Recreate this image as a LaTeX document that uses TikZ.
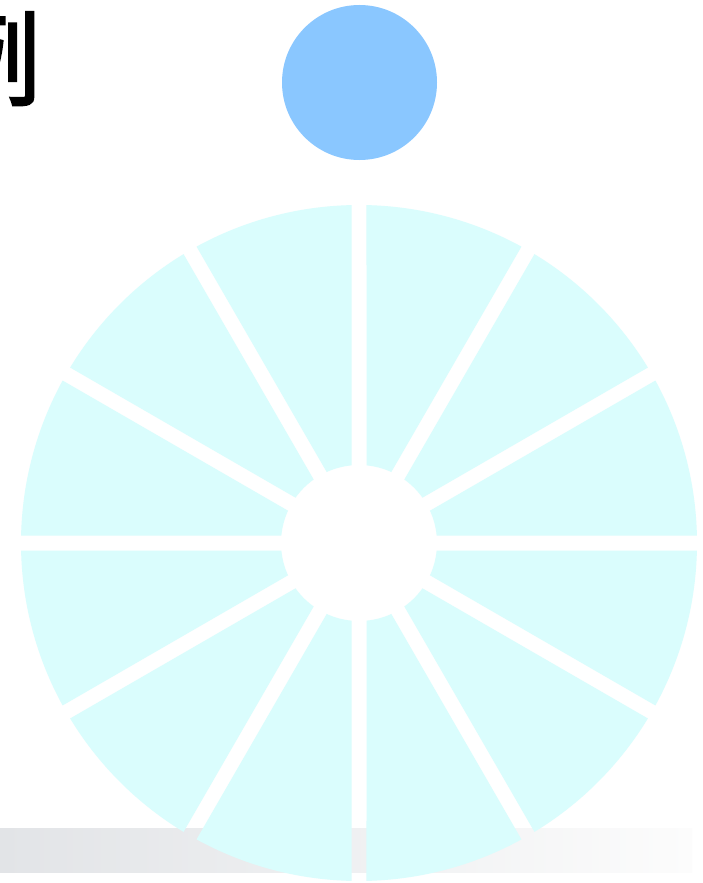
\documentclass[tikz,border=0pt]{standalone}
\usepackage{fontspec}
\newfontfamily\cjk[FakeBold=2]{Noto Sans CJK SC}
\definecolor{wheelcyan}{HTML}{DAFDFD}
\definecolor{dotblue}{HTML}{8AC7FF}
\definecolor{barleft}{HTML}{E2E4E7}
\definecolor{barright}{HTML}{FCFCFC}
\tikzset{
  sector/.style={fill=wheelcyan, draw=none},
}
\begin{document}
\begin{tikzpicture}[x=1pt,y=1pt]
\useasboundingbox (0,0) rectangle (702,-883);
\clip (0,0) rectangle (702,-883);
\fill[white] (0,0) rectangle (702,-883);
% partial title character
\node[anchor=base west, inner sep=0pt, font=\cjk\fontsize{103}{103}\selectfont] (title) at (-62,-98) {例};
% blue dot
\node[circle, fill=dotblue, minimum size=155pt, inner sep=0pt] (dot) at (359.5,-82.5) {};
% bottom bar
\shade[left color=barleft, right color=barright] (0,-828) rectangle (692,-872);
% wheel
\coordinate (c) at (359,-543);
\pgfmathsetmacro{\Rout}{338}
\pgfmathsetmacro{\Rin}{78}
\pgfmathsetmacro{\aout}{asin(7.5/\Rout)}
\pgfmathsetmacro{\ain}{asin(7.5/\Rin)}
\begin{scope}[shift={(c)}]
\foreach \k in {0,...,11}{
  \pgfmathsetmacro{\ta}{30*\k}
  \pgfmathsetmacro{\tb}{30*\k+30}
  \fill[sector] (\ta+\ain:\Rin pt) -- (\ta+\aout:\Rout pt)
     arc[start angle=\ta+\aout, end angle=\tb-\aout, radius=\Rout pt]
     -- (\tb-\ain:\Rin pt)
     arc[start angle=\tb-\ain, end angle=\ta+\ain, radius=\Rin pt] -- cycle;
}
\end{scope}
\end{tikzpicture}
\end{document}
